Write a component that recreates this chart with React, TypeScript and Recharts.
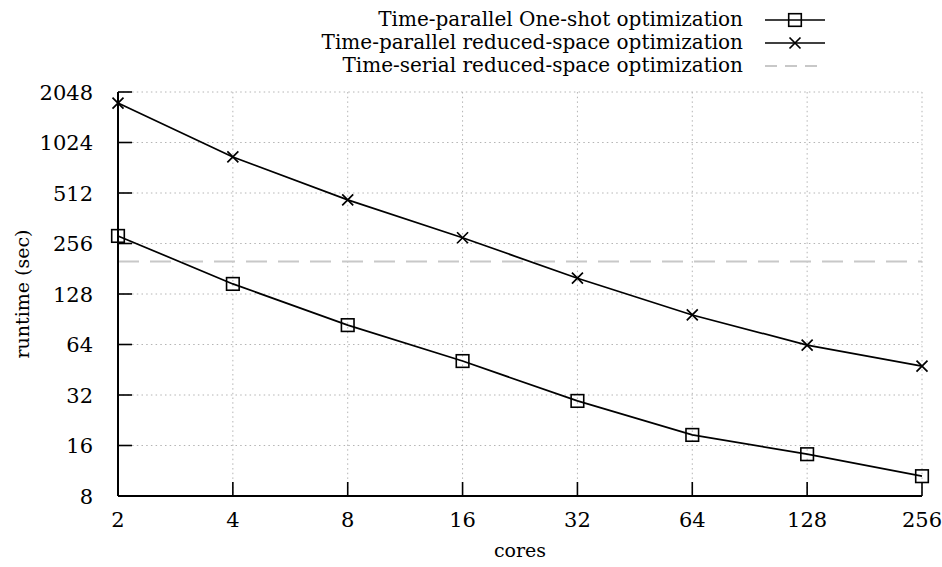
import React from 'react';
import {
  LineChart,
  Line,
  XAxis,
  YAxis,
  CartesianGrid,
  ReferenceLine,
} from 'recharts';

const cores = [2, 4, 8, 16, 32, 64, 128, 256];
const oneShotRuntime = [284, 147, 83.5, 51, 29.5, 18.5, 14.2, 10.5];
const reducedRuntime = [1760, 840, 466, 277, 159, 96, 63.5, 47.6];
const serialRuntime = 200;
const runtimeTicks = [8, 16, 32, 64, 128, 256, 512, 1024, 2048];

const seriesNames = [
  'Time-parallel One-shot optimization',
  'Time-parallel reduced-space optimization',
  'Time-serial reduced-space optimization',
];

const data = cores.map((c, i) => ({
  cores: c,
  oneShot: oneShotRuntime[i],
  reduced: reducedRuntime[i],
}));

const FONT = "'DejaVu Serif', serif";
const TICK = 14;

const Square = (props: any) => {
  const { cx, cy, index } = props;
  return (
    <rect
      key={`sq-${index}`}
      x={cx - 6.3}
      y={cy - 6.3}
      width={12.6}
      height={12.6}
      fill="none"
      stroke="#000"
      strokeWidth={1.6}
    />
  );
};

const Cross = (props: any) => {
  const { cx, cy, index } = props;
  const r = 5.5;
  return (
    <path
      key={`x-${index}`}
      d={`M${cx - r},${cy - r}L${cx + r},${cy + r}M${cx - r},${cy + r}L${cx + r},${cy - r}`}
      stroke="#000"
      strokeWidth={1.7}
      fill="none"
    />
  );
};

const BottomTick = ({ x, y, payload }: any) => (
  <g>
    <line x1={x} y1={y} x2={x} y2={y - TICK} stroke="#000" strokeWidth={1.6} />
    <text x={x} y={y + 31} textAnchor="middle" fontSize={21} style={{ fontFamily: FONT }} fill="#000">
      {payload.value}
    </text>
  </g>
);

const TopTick = ({ x, y }: any) => (
  <line x1={x} y1={y} x2={x} y2={y + TICK} stroke="#000" strokeWidth={1.6} />
);

const LeftTick = ({ x, y, payload }: any) => (
  <g>
    <line x1={x} y1={y} x2={x + TICK} y2={y} stroke="#000" strokeWidth={1.6} />
    <text x={x - 25} y={y + 7.5} textAnchor="end" fontSize={21} style={{ fontFamily: FONT }} fill="#000">
      {payload.value}
    </text>
  </g>
);

const RightTick = ({ x, y }: any) => (
  <line x1={x} y1={y} x2={x - TICK} y2={y} stroke="#000" strokeWidth={1.6} />
);

const Key = () => {
  const textX = 743;
  const x1 = 765;
  const x2 = 825;
  const rows = [20, 43, 66];
  return (
    <svg width={942} height={90} style={{ position: 'absolute', left: 0, top: 0 }}>
      {seriesNames.map((name, i) => (
        <text
          key={name}
          x={textX}
          y={rows[i] + 6}
          textAnchor="end"
          fontSize={20}
          style={{ fontFamily: FONT }}
          fill="#000"
        >
          {name}
        </text>
      ))}
      <line x1={x1} y1={rows[0]} x2={x2} y2={rows[0]} stroke="#000" strokeWidth={1.7} />
      <Square cx={795} cy={rows[0]} index={0} />
      <line x1={x1} y1={rows[1]} x2={x2} y2={rows[1]} stroke="#000" strokeWidth={1.7} />
      <Cross cx={795} cy={rows[1]} index={1} />
      <line
        x1={x1}
        y1={rows[2]}
        x2={x2}
        y2={rows[2]}
        stroke="#c8c8c8"
        strokeWidth={2}
        strokeDasharray="12 8"
      />
    </svg>
  );
};

export default function App() {
  return (
    <div
      style={{
        position: 'absolute',
        left: 0,
        top: 0,
        width: 942,
        height: 567,
        background: '#fff',
        fontFamily: FONT,
      }}
    >
      <LineChart
        width={942}
        height={567}
        data={data}
        margin={{ top: 92, right: 20, left: 0, bottom: 0 }}
      >
        <CartesianGrid stroke="#b4b4b4" strokeWidth={1} strokeDasharray="1.5 3.2" />
        <XAxis
          dataKey="cores"
          type="number"
          scale="log"
          domain={[2, 256]}
          ticks={cores}
          interval={0}
          height={71}
          tickSize={0}
          tickMargin={0}
          tick={<BottomTick />}
          axisLine={{ stroke: '#000', strokeWidth: 2 }}
          label={{
            content: ({ viewBox }: any) => (
              <text
                x={viewBox.x + viewBox.width / 2}
                y={viewBox.y + 61}
                textAnchor="middle"
                fontSize={19}
                style={{ fontFamily: FONT }}
                fill="#000"
              >
                cores
              </text>
            ),
          }}
        />
        <XAxis
          xAxisId="top"
          orientation="top"
          dataKey="cores"
          type="number"
          scale="log"
          domain={[2, 256]}
          ticks={cores}
          interval={0}
          height={0}
          tickSize={0}
          tickMargin={0}
          tick={<TopTick />}
          axisLine={{ stroke: '#000', strokeWidth: 2 }}
        />
        <YAxis
          type="number"
          scale="log"
          domain={[8, 2048]}
          ticks={runtimeTicks}
          interval={0}
          width={118}
          tickSize={0}
          tickMargin={0}
          tick={<LeftTick />}
          axisLine={{ stroke: '#000', strokeWidth: 2 }}
          allowDataOverflow
          label={{
            content: ({ viewBox }: any) => {
              const cx = viewBox.x + 22;
              const cy = viewBox.y + viewBox.height / 2;
              return (
                <text
                  x={cx}
                  y={cy}
                  transform={`rotate(-90 ${cx} ${cy})`}
                  textAnchor="middle"
                  dominantBaseline="central"
                  fontSize={19}
                  style={{ fontFamily: FONT }}
                  fill="#000"
                >
                  runtime (sec)
                </text>
              );
            },
          }}
        />
        <YAxis
          yAxisId="right"
          orientation="right"
          type="number"
          scale="log"
          domain={[8, 2048]}
          ticks={runtimeTicks}
          interval={0}
          width={0}
          tickSize={0}
          tickMargin={0}
          tick={<RightTick />}
          axisLine={{ stroke: '#000', strokeWidth: 2 }}
          allowDataOverflow
        />
        <ReferenceLine
          y={serialRuntime}
          stroke="#c8c8c8"
          strokeWidth={2}
          strokeDasharray="21 11"
        />
        <Line
          dataKey="oneShot"
          stroke="#000"
          strokeWidth={1.7}
          dot={Square}
          activeDot={false}
          isAnimationActive={false}
        />
        <Line
          dataKey="reduced"
          stroke="#000"
          strokeWidth={1.7}
          dot={Cross}
          activeDot={false}
          isAnimationActive={false}
        />
      </LineChart>
      <Key />
    </div>
  );
}
